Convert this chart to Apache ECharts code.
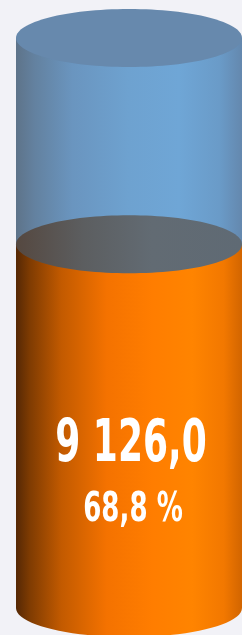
<!DOCTYPE html>
<html>
<head>
<meta charset="utf-8">
<script src="https://cdn.jsdelivr.net/npm/echarts@6/dist/echarts.min.js"></script>
<style>
  html, body { margin: 0; padding: 0; background: #f2f2f7; }
  #chart { width: 242px; height: 635px; }
</style>
</head>
<body>
<div id="chart"></div>
<script>
  // data
  var categories = ['Total'];
  var values = [9126.0];
  var shares = [68.8];
  var axisMax = 14300; // top of the cylinder, estimated from the fill level

  function fmtNum(v) {
    var s = v.toFixed(1).split('.');
    return s[0].replace(/\B(?=(\d{3})+(?!\d))/g, ' ') + ',' + s[1];
  }

  var RY = 29; // ellipse half height of the cylinder caps

  function hGrad(stops) {
    return new echarts.graphic.LinearGradient(0, 0, 1, 0, stops);
  }

  var blueSide = [
    { offset: 0, color: '#5e7389' },
    { offset: 0.08, color: '#63819f' },
    { offset: 0.25, color: '#6a95bf' },
    { offset: 0.5, color: '#6ea2d0' },
    { offset: 0.72, color: '#6fa6d6' },
    { offset: 0.9, color: '#6a9bc8' },
    { offset: 1, color: '#6488ae' }
  ];
  var orangeSide = [
    { offset: 0, color: '#552805' },
    { offset: 0.06, color: '#7e3b02' },
    { offset: 0.2, color: '#c25a00' },
    { offset: 0.4, color: '#f47200' },
    { offset: 0.6, color: '#ff7d00' },
    { offset: 0.78, color: '#ff8400' },
    { offset: 0.92, color: '#f27800' },
    { offset: 1, color: '#d26500' }
  ];
  var orangeTop = [
    { offset: 0, color: '#554840' },
    { offset: 0.3, color: '#5c5e60' },
    { offset: 0.6, color: '#626b73' },
    { offset: 1, color: '#5f6a74' }
  ];

  var chart = echarts.init(document.getElementById('chart'));

  chart.setOption({
    backgroundColor: '#f2f2f7',
    animation: false,
    grid: { left: 16, right: -2, top: 38, bottom: 27 },
    xAxis: { type: 'category', data: categories, show: false },
    yAxis: { type: 'value', min: 0, max: axisMax, show: false },
    series: [{
      type: 'custom',
      data: values.map(function (v, i) { return [i, v, shares[i]]; }),
      renderItem: function (params, api) {
        var i = api.value(0);
        var base = api.coord([i, 0]);
        var top = api.coord([i, axisMax]);
        var lvl = api.coord([i, api.value(1)]);
        var w = api.size([1, 0])[0];
        var cx = base[0], rx = w / 2, x0 = cx - rx;
        return {
          type: 'group',
          children: [
            // blue empty part
            { type: 'rect', shape: { x: x0, y: top[1], width: w, height: base[1] - top[1] }, style: { fill: hGrad(blueSide) } },
            // orange filled part
            { type: 'ellipse', shape: { cx: cx, cy: base[1], rx: rx, ry: RY }, style: { fill: hGrad(orangeSide) } },
            { type: 'rect', shape: { x: x0, y: lvl[1], width: w, height: base[1] - lvl[1] }, style: { fill: hGrad(orangeSide) } },
            { type: 'ellipse', shape: { cx: cx, cy: lvl[1], rx: rx, ry: RY }, style: { fill: hGrad(orangeTop) } },
            // blue lid
            { type: 'ellipse', shape: { cx: cx, cy: top[1], rx: rx, ry: RY }, style: { fill: '#6789ad' } },
            // labels
            {
              type: 'text', x: cx + 2, y: 446, scaleY: 1.48,
              style: {
                text: fmtNum(api.value(1)), fill: '#ffffff',
                fontFamily: 'DejaVu Sans Condensed', fontWeight: 'bold', fontSize: 40,
                align: 'center', verticalAlign: 'middle'
              }
            },
            {
              type: 'text', x: cx + 4, y: 511, scaleY: 1.38,
              style: {
                text: fmtNum(api.value(2)) + ' %', fill: '#ffffff',
                fontFamily: 'DejaVu Sans Condensed', fontWeight: 'bold', fontSize: 29,
                align: 'center', verticalAlign: 'middle'
              }
            }
          ]
        };
      }
    }]
  });
</script>
</body>
</html>
